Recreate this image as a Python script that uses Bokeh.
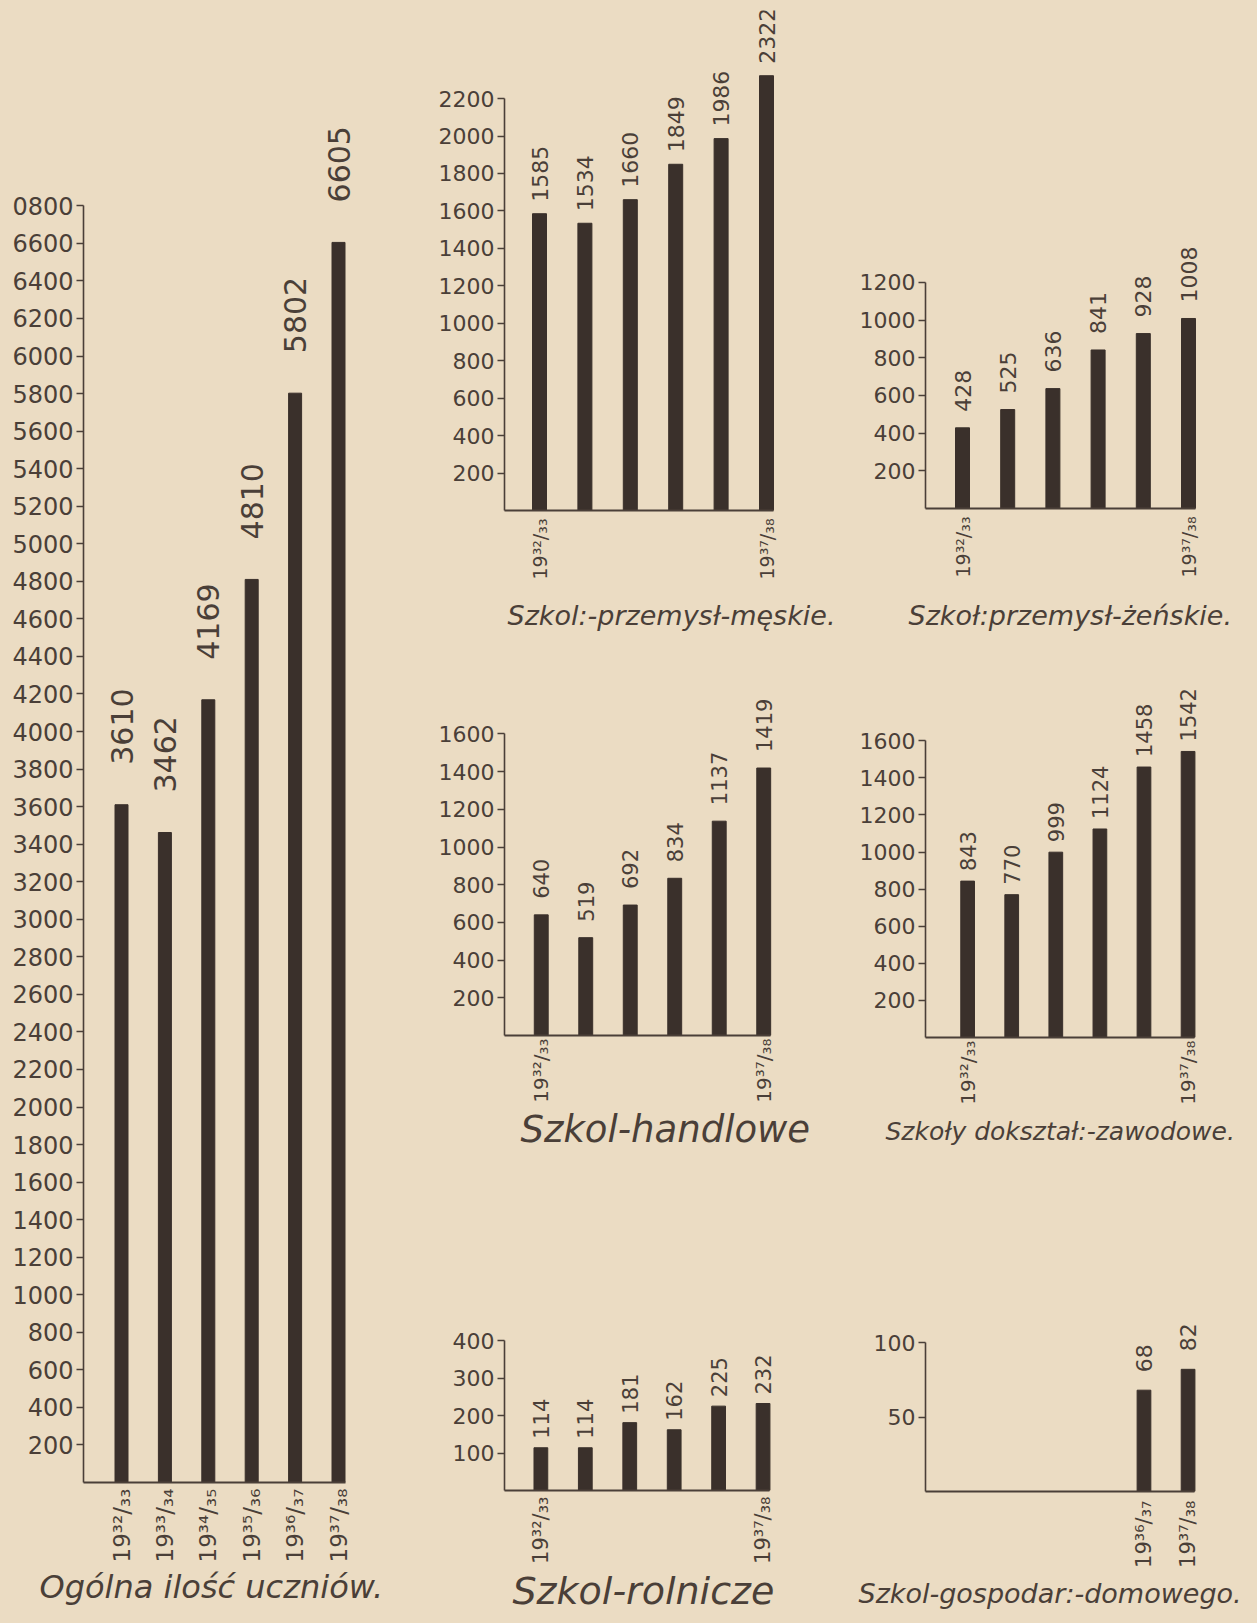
import math
from bokeh.plotting import figure
from bokeh.models import Range1d, FixedTicker, Title
from bokeh.layouts import row, column
from bokeh.embed import file_html
from bokeh.resources import INLINE
from bokeh.core.properties import value

# ---------------- data ----------------
years = ["1932/33", "1933/34", "1934/35", "1935/36", "1936/37", "1937/38"]
year_labels = ["19³²/₃₃", "19³³/₃₄", "19³⁴/₃₅", "19³⁵/₃₆", "19³⁶/₃₇", "19³⁷/₃₈"]

ogolna = [3610, 3462, 4169, 4810, 5802, 6605]
przem_meskie = [1585, 1534, 1660, 1849, 1986, 2322]
przem_zenskie = [428, 525, 636, 841, 928, 1008]
handlowe = [640, 519, 692, 834, 1137, 1419]
doksztalc = [843, 770, 999, 1124, 1458, 1542]
rolnicze = [114, 114, 181, 162, 225, 232]
gosp_years = ["1936/37", "1937/38"]
gosp_domowe = [68, 82]

ticks_ogolna = list(range(200, 6801, 200))
ticks_meskie = list(range(200, 2201, 200))
ticks_zenskie = list(range(200, 1201, 200))
ticks_handlowe = list(range(200, 1601, 200))
ticks_doksztalc = list(range(200, 1601, 200))
ticks_rolnicze = [100, 200, 300, 400]
ticks_gosp = [50, 100]
tick_overrides_ogolna = {6800: "0800"}

title_ogolna = "Ogólna ilość uczniów."
title_meskie = "Szkol:-przemysł-męskie."
title_zenskie = "Szkoł:przemysł-żeńskie."
title_handlowe = "Szkol-handlowe"
title_doksztalc = "Szkoły dokształ:-zawodowe."
title_rolnicze = "Szkol-rolnicze"
title_gosp = "Szkol-gospodar:-domowego."

# ---------------- style ----------------
PAPER = "#ebdcc3"
INK = "#4a3f38"
BAR = "#3a302b"
FONT = "DejaVu Sans"


def panel(cats, vals, shown, ticks, overrides, title, g):
    fw = g["frame_right"] - g["axis_x"]
    fh = g["base_y"] - g["frame_top"]
    W, H = g["width"], g["height"]
    mbl = g["axis_x"] - g["fig_x"]
    mbt = g["frame_top"] - g["fig_y"]
    mbr = W - mbl - fw
    mbb = H - mbt - fh
    sp = g["spacing"]
    x0 = 1 - (g["slot1"] - g["axis_x"]) / sp
    x1 = x0 + fw / sp
    y1 = fh / g["ppu"]
    bw = g["bar_px"] / sp

    p = figure(width=W, height=H, x_range=Range1d(x0, x1), y_range=Range1d(0, y1),
               output_backend="svg", toolbar_location=None, title=None,
               min_border_left=mbl, min_border_right=mbr,
               min_border_top=mbt, min_border_bottom=mbb,
               background_fill_color=None, border_fill_color=None,
               outline_line_color=None)
    p.xgrid.visible = False
    p.ygrid.visible = False

    xs = [years.index(c) + 1 for c in cats]
    p.vbar(x=xs, top=vals, width=bw, bottom=0, fill_color=BAR, line_color=BAR)
    p.text(x=xs, y=vals, text=[str(v) for v in vals], angle=math.pi / 2,
           text_align="left", text_baseline="middle", y_offset=-g["gap"],
           text_font=value(FONT), text_font_size=g["vfont"], text_color=INK)

    ya = p.yaxis[0]
    ya.ticker = FixedTicker(ticks=ticks)
    ya.bounds = (0, ticks[-1])
    ya.major_label_overrides = {t: overrides.get(t, str(t)) for t in ticks}
    ya.major_tick_out = 7
    ya.major_tick_in = 0
    ya.minor_tick_out = 0
    ya.minor_tick_in = 0
    ya.axis_line_color = INK
    ya.axis_line_width = 1.6
    ya.major_tick_line_color = INK
    ya.major_tick_line_width = 1.4
    ya.major_label_text_font = FONT
    ya.major_label_text_font_size = g["tfont"]
    ya.major_label_text_color = INK
    ya.major_label_standoff = 3

    xa = p.xaxis[0]
    shown_pos = [years.index(c) + 1 for c in shown]
    xa.ticker = FixedTicker(ticks=shown_pos)
    xa.major_label_overrides = {years.index(c) + 1: year_labels[years.index(c)] for c in shown}
    xa.major_label_orientation = math.pi / 2
    xa.major_tick_line_color = None
    xa.major_tick_out = 0
    xa.major_tick_in = 0
    xa.minor_tick_out = 0
    xa.minor_tick_in = 0
    xa.axis_line_color = INK
    xa.axis_line_width = 2.2
    xa.bounds = (x0, 6 + bw / 2)
    xa.major_label_text_font = FONT
    xa.major_label_text_font_size = g["cfont"]
    xa.major_label_text_color = INK
    xa.major_label_standoff = g["cstand"]

    t = Title(text=title, align="left", offset=g["title_x"] - g["axis_x"],
              text_font=FONT, text_font_size=g["titfont"], text_font_style="italic",
              text_color=INK, standoff=g["tstand"])
    p.add_layout(t, "below")
    return p


g1 = dict(fig_x=8, fig_y=8, width=402, height=1607, axis_x=83, frame_right=365,
          base_y=1482, frame_top=100, slot1=121, spacing=43.4, ppu=37.55 / 200,
          bar_px=13, gap=40, vfont="30px", tfont="24px", cfont="23px", cstand=6,
          title_x=39, titfont="32px", tstand=0)
g2 = dict(fig_x=410, fig_y=8, width=440, height=647, axis_x=504, frame_right=795,
          base_y=510, frame_top=10, slot1=539, spacing=45.4, ppu=37.45 / 200,
          bar_px=14, gap=12, vfont="22px", tfont="22px", cfont="19px", cstand=8,
          title_x=507, titfont="27px", tstand=31)
g3 = dict(fig_x=850, fig_y=8, width=399, height=647, axis_x=925, frame_right=1215,
          base_y=508, frame_top=210, slot1=962, spacing=45.2, ppu=37.7 / 200,
          bar_px=14, gap=16, vfont="22px", tfont="22px", cfont="19px", cstand=8,
          title_x=908, titfont="27px", tstand=35)
g4 = dict(fig_x=410, fig_y=655, width=440, height=505, axis_x=502, frame_right=795,
          base_y=1035, frame_top=690, slot1=539, spacing=44.8, ppu=37.7 / 200,
          bar_px=14, gap=16, vfont="21px", tfont="22px", cfont="20px", cstand=3,
          title_x=518, titfont="37px", tstand=0)
g5 = dict(fig_x=850, fig_y=655, width=399, height=505, axis_x=919, frame_right=1215,
          base_y=1037, frame_top=680, slot1=962, spacing=45.0, ppu=37.1 / 200,
          bar_px=14, gap=10, vfont="21px", tfont="22px", cfont="20px", cstand=3,
          title_x=879, titfont="25px", tstand=14)
g6 = dict(fig_x=410, fig_y=1160, width=440, height=455, axis_x=499, frame_right=795,
          base_y=1490, frame_top=1290, slot1=536, spacing=45.2, ppu=37.5 / 100,
          bar_px=14, gap=9, vfont="21px", tfont="22px", cfont="21px", cstand=6,
          title_x=507, titfont="38px", tstand=0)
g7 = dict(fig_x=850, fig_y=1160, width=399, height=455, axis_x=919, frame_right=1215,
          base_y=1491, frame_top=1280, slot1=962, spacing=45.0, ppu=1.49,
          bar_px=14, gap=18, vfont="22px", tfont="22px", cfont="21px", cstand=9,
          title_x=852, titfont="27px", tstand=10)

p1 = panel(years, ogolna, years, ticks_ogolna, tick_overrides_ogolna, title_ogolna, g1)
p2 = panel(years, przem_meskie, [years[0], years[-1]], ticks_meskie, {}, title_meskie, g2)
p3 = panel(years, przem_zenskie, [years[0], years[-1]], ticks_zenskie, {}, title_zenskie, g3)
p4 = panel(years, handlowe, [years[0], years[-1]], ticks_handlowe, {}, title_handlowe, g4)
p5 = panel(years, doksztalc, [years[0], years[-1]], ticks_doksztalc, {}, title_doksztalc, g5)
p6 = panel(years, rolnicze, [years[0], years[-1]], ticks_rolnicze, {}, title_rolnicze, g6)
p7 = panel(gosp_years, gosp_domowe, gosp_years, ticks_gosp, {}, title_gosp, g7)

layout = row(p1, column(p2, p4, p6, spacing=0), column(p3, p5, p7, spacing=0), spacing=0)

html = file_html(layout, INLINE, title="Szkoły zawodowe")
page_css = ("<style>html,body{height:auto !important;background-color:%s !important;}"
            "body{margin:8px !important;padding:0 !important;}</style>" % PAPER)
html = html.replace("</head>", page_css + "</head>", 1)
open("out.html", "w").write(html)
